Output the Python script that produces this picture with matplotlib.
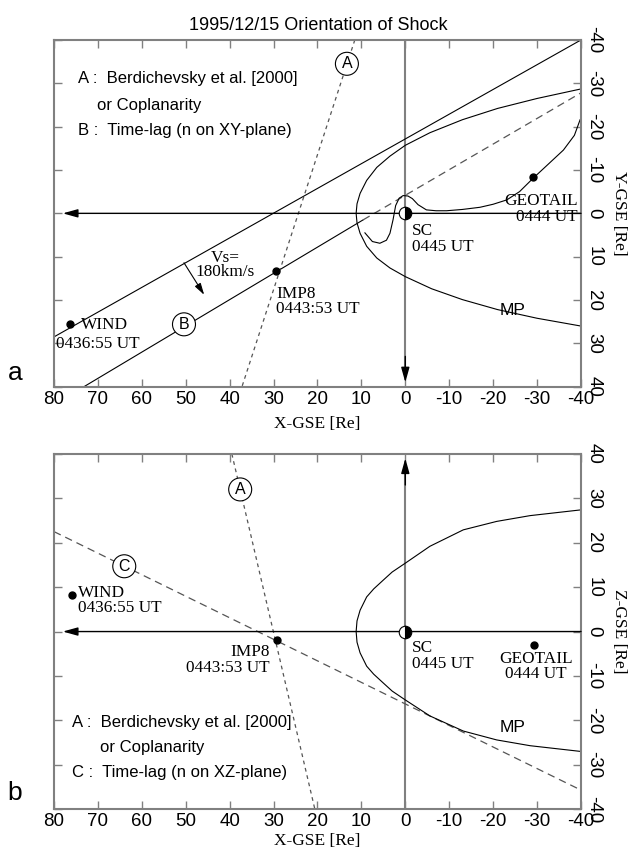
import numpy as np
import matplotlib
matplotlib.use('Agg')
import matplotlib.pyplot as plt

plt.rcParams['axes.unicode_minus'] = False

# axis ticks
x_ticks = [80, 70, 60, 50, 40, 30, 20, 10, 0, -10, -20, -30, -40]
y_ticks = [-40, -30, -20, -10, 0, 10, 20, 30, 40]

# spacecraft positions, panel a (X, Y) and panel b (X, Z)
wind_a = (76.4, 25.5)
imp8_a = (29.45, 13.3)
geotail_a = (-29.1, -8.3)
wind_b = (76.0, 8.2)
imp8_b = (29.3, -1.9)
geotail_b = (-29.3, -3.0)

# shock fronts, panel a
shock1_x = [80, -40]
shock1_y = [28.5, -40]
shockB_x = [73.2, 9.6]
shockB_y = [40, 1.5]
shockB_dash_x = [9.6, -40]
shockB_dash_y = [1.5, -27.8]
lineA_a_x = [11.5, 37.2]
lineA_a_y = [-40, 40]
vs_start = (50.4, 11.4)
vs_end = (45.8, 18.8)

# panel b lines
lineA_b_x = [39.5, 20.6]
lineA_b_z = [40, -40]
lineC_x = [80, -40]
lineC_z = [22.5, -35.7]

# magnetopause
mp_a_x = [-40, -30, -21, -13, -5.6, 0, 3.5, 6.5, 8.8, 10.3, 11.0, 11.2, 11.0, 10.3, 8.8, 6.5, 3.5, 0, -6, -13, -21, -30, -40]
mp_a_y = [-28.7, -26.5, -24.2, -21.6, -18.6, -15.7, -13.2, -10.6, -7.6, -4.6, -2.2, 0, 2.2, 4.6, 7.6, 10.3, 12.6, 14.6, 17.4, 19.9, 22.2, 24.2, 26.0]
mp_b_x = [-40, -28.4, -20.8, -13.2, -5.6, 0, 3.0, 5.0, 7.2, 8.8, 10.3, 11.0, 11.2, 11.0, 10.3, 8.8, 7.2, 5.0, 3.0, 0, -5.6, -13.2, -20.8, -28.4, -40]
mp_b_z = [27.4, 26.1, 24.8, 22.9, 19.2, 15.4, 13.4, 11.6, 9.6, 7.8, 4.8, 2.4, 0, -2.4, -4.8, -7.8, -9.6, -11.6, -13.4, -15.4, -19.0, -22.4, -24.4, -25.7, -27.0]

# distorted curve around SC, panel a
wig_x = [9.2, 7.5, 5.8, 4.3, 3.5, 2.8, 2.2, 1.4, 0.5, -0.6, -1.6, -2.9, -4.8, -7, -9.4, -13, -17, -20, -23.1, -26, -29.1, -32.5, -36, -38.5, -39.8]
wig_y = [4.5, 6.5, 6.9, 6.2, 4.6, 1.5, -1.8, -3.5, -4.1, -4.0, -3.4, -2.0, -0.8, -0.6, -0.6, -0.9, -1.4, -2.1, -3.1, -5.0, -8.1, -11.3, -14.6, -18.0, -21.6]

SANS = 'Liberation Sans'
SERIF = 'Liberation Serif'
GRAY = '#808080'
FS = 12.4  # serif annotations

fig = plt.figure(figsize=(6.3, 8.5), dpi=100)
ax1 = fig.add_axes([0.0857, 0.545, 0.8365, 0.408])
ax2 = fig.add_axes([0.0857, 0.048, 0.8365, 0.418])


def setup(ax, ylab, ylim, xpad):
    ax.set_xlim(80, -40)
    ax.set_ylim(*ylim)
    ax.set_xticks(x_ticks)
    ax.set_yticks(y_ticks)
    ax.yaxis.tick_right()
    ax.yaxis.set_label_position('right')
    ax.tick_params(direction='in', top=True, left=True, right=True, bottom=True,
                   labelleft=False, labelright=True, length=6, width=1, color=GRAY,
                   labelsize=13.5, pad=3)
    for lab in ax.get_xticklabels() + ax.get_yticklabels():
        lab.set_family(SANS)
    for lab in ax.get_yticklabels():
        lab.set_rotation(270)
        lab.set_va('center')
        lab.set_ha('left')
    for s in ax.spines.values():
        s.set_color(GRAY)
        s.set_linewidth(1.5)
    ax.set_xlabel('X-GSE [Re]', family=SERIF, fontsize=12.5, labelpad=xpad)
    ax.set_ylabel(ylab, family=SERIF, fontsize=12.5, rotation=270, ha='center', va='center')
    ax.yaxis.set_label_coords(1.072, 0.5)


setup(ax1, 'Y-GSE [Re]', (40, -40), 6)
setup(ax2, 'Z-GSE [Re]', (-40, 40), 2)

arrow = dict(arrowstyle='-|>,head_length=0.9,head_width=0.25', color='black', lw=1, shrinkA=0, shrinkB=0)
circ = dict(boxstyle='circle,pad=0.25', fc='white', ec='black', lw=0.8)

# ---- panel a ----
ax1.plot([0, 0], [-40, 37], color=GRAY, lw=1.5, zorder=2)
ax1.annotate('', xy=(0, 39), xytext=(0, 33), arrowprops=arrow)
ax1.annotate('', xy=(78, 0), xytext=(-40, 0), arrowprops=arrow)

ax1.plot(shock1_x, shock1_y, color='black', lw=0.8)
ax1.plot(shockB_x, shockB_y, color='black', lw=0.8)
ax1.plot(shockB_dash_x, shockB_dash_y, color='#555555', lw=0.9, ls=(0, (6, 4)))
ax1.plot(lineA_a_x, lineA_a_y, color='#555555', lw=0.9, ls=(0, (3, 3)))
ax1.plot(mp_a_x, mp_a_y, color='black', lw=0.8)
ax1.plot(wig_x, wig_y, color='black', lw=0.8)

ax1.annotate('', xy=vs_end, xytext=vs_start, arrowprops=dict(arrowstyle='-|>,head_length=0.7,head_width=0.2', color='black', lw=0.8, shrinkA=0, shrinkB=0))
ax1.text(41.0, 12.0, 'Vs=\n180km/s', family=SERIF, fontsize=FS, ha='center', va='center', linespacing=0.85)

for p in [wind_a, imp8_a, geotail_a]:
    ax1.plot(*p, 'o', color='black', ms=5)
ax1.plot(0, 0, 'o', ms=9, fillstyle='right', markerfacecolor='black', markerfacecoloralt='white', markeredgecolor='black', mew=0.8, zorder=5)

ax1.text(wind_a[0] - 2.5, wind_a[1] + 0.3, 'WIND', family=SERIF, fontsize=FS, ha='left', va='center')
ax1.text(79.5, wind_a[1] + 4.6, '0436:55 UT', family=SERIF, fontsize=FS, ha='left', va='center')
ax1.text(imp8_a[0], imp8_a[1] + 3.4, 'IMP8\n0443:53 UT', family=SERIF, fontsize=FS, ha='left', va='top', linespacing=0.95)
ax1.text(-1.5, 2.3, 'SC\n0445 UT', family=SERIF, fontsize=FS, ha='left', va='top', linespacing=0.95)
ax1.text(-39.2, -4.6, 'GEOTAIL\n0444 UT', family=SERIF, fontsize=FS, ha='right', va='top', linespacing=0.95, multialignment='right')
ax1.text(-21.5, 22.5, 'MP', family=SANS, fontsize=12.5, ha='left', va='center')

ax1.text(13.3, -34.5, 'A', family=SANS, fontsize=11.5, ha='center', va='center', bbox=circ)
ax1.text(50.4, 25.6, 'B', family=SANS, fontsize=11.5, ha='center', va='center', bbox=circ)

ax1.text(74.6, -31.0, 'A :  Berdichevsky et al. [2000]', family=SANS, fontsize=12, va='center')
ax1.text(70.3, -24.8, 'or Coplanarity', family=SANS, fontsize=12, va='center')
ax1.text(74.6, -19.0, 'B :  Time-lag (n on XY-plane)', family=SANS, fontsize=12, va='center')

# ---- panel b ----
ax2.plot([0, 0], [-40, 36], color=GRAY, lw=1.5, zorder=2)
ax2.annotate('', xy=(0, 39), xytext=(0, 33), arrowprops=arrow)
ax2.annotate('', xy=(78, 0), xytext=(-40, 0), arrowprops=arrow)

ax2.plot(lineC_x, lineC_z, color='#555555', lw=0.9, ls=(0, (6, 4)))
ax2.plot(lineA_b_x, lineA_b_z, color='#555555', lw=0.9, ls=(0, (3, 3)))
ax2.plot(mp_b_x, mp_b_z, color='black', lw=0.8)

for p in [wind_b, imp8_b, geotail_b]:
    ax2.plot(*p, 'o', color='black', ms=5)
ax2.plot(0, 0, 'o', ms=9, fillstyle='right', markerfacecolor='black', markerfacecoloralt='white', markeredgecolor='black', mew=0.8, zorder=5)

ax2.text(wind_b[0] - 1.5, wind_b[1] - 1.2, 'WIND\n0436:55 UT', family=SERIF, fontsize=FS, ha='left', va='center', linespacing=0.95)
ax2.text(imp8_b[0] + 1.5, imp8_b[1] - 1.0, 'IMP8\n0443:53 UT', family=SERIF, fontsize=FS, ha='right', va='top', linespacing=0.95, multialignment='right')
ax2.text(-1.5, -2.0, 'SC\n0445 UT', family=SERIF, fontsize=FS, ha='left', va='top', linespacing=0.95)
ax2.text(geotail_b[0] - 0.5, geotail_b[1] - 1.4, 'GEOTAIL\n0444 UT', family=SERIF, fontsize=FS, ha='center', va='top', linespacing=0.95)
ax2.text(-21.5, -21.7, 'MP', family=SANS, fontsize=12.5, ha='left', va='center')

ax2.text(37.6, 32.0, 'A', family=SANS, fontsize=11.5, ha='center', va='center', bbox=circ)
ax2.text(64.0, 14.7, 'C', family=SANS, fontsize=11.5, ha='center', va='center', bbox=circ)

ax2.text(76.0, -20.5, 'A :  Berdichevsky et al. [2000]', family=SANS, fontsize=12, va='center')
ax2.text(69.5, -26.2, 'or Coplanarity', family=SANS, fontsize=12, va='center')
ax2.text(76.0, -31.8, 'C :  Time-lag (n on XZ-plane)', family=SANS, fontsize=12, va='center')

fig.text(0.506, 0.970, '1995/12/15 Orientation of Shock', family=SANS, fontsize=13, ha='center', va='center')
fig.text(0.024, 0.561, 'a', family=SANS, fontsize=19, ha='center', va='center')
fig.text(0.024, 0.067, 'b', family=SANS, fontsize=19, ha='center', va='center')

fig.savefig('out.png', dpi=100)
